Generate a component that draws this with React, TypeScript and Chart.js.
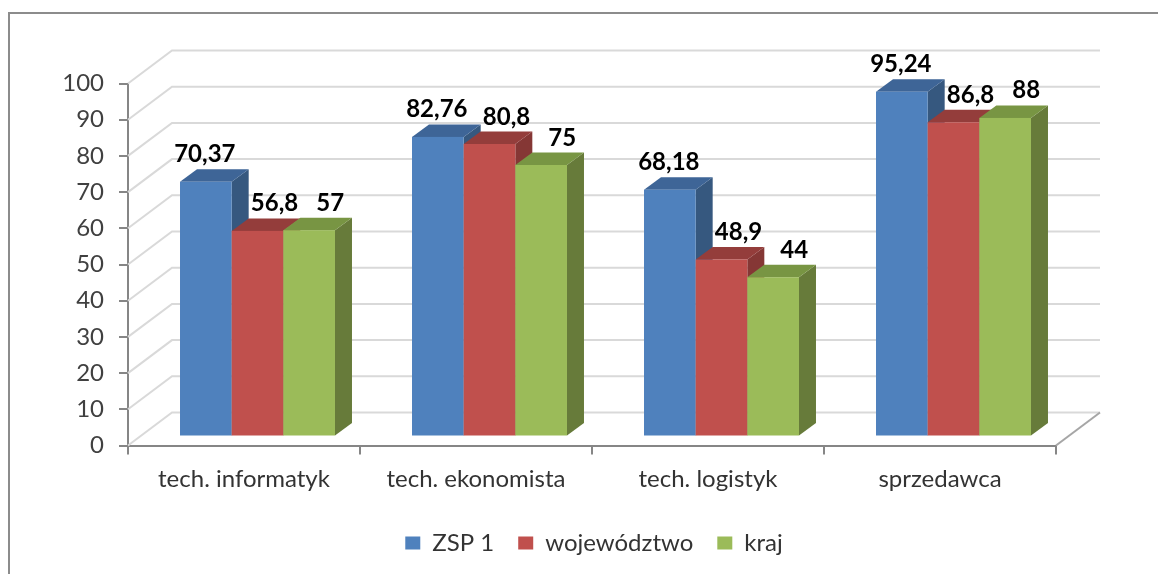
import React, { useEffect, useRef } from "react";
import { Chart, registerables } from "chart.js";

Chart.register(...registerables);

// ---- data ----
const categories = ["tech. informatyk", "tech. ekonomista", "tech. logistyk", "sprzedawca"];
const seriesNames = ["ZSP 1", "województwo", "kraj"];
const zspValues = [70.37, 82.76, 68.18, 95.24];
const wojValues = [56.8, 80.8, 48.9, 86.8];
const krajValues = [57, 75, 44, 88];
const yMin = 0;
const yMax = 100;
const yStep = 10;

// ---- styles ----
const frontColors = ["#4F81BD", "#C0504D", "#9BBB59"];
const topColors = ["#3E6597", "#943D3B", "#789543"];
const sideColors = ["#36587F", "#853735", "#677B3A"];
const labelShift = [-1, 17, 21];

const W = 1158;
const H = 574;
const WALL_DX = 44;
const WALL_DY = 33;
const BAR_SHIFT_X = 13.5;
const BAR_SHIFT_Y = 9;
const BAR_DX = 17;
const BAR_DY = 12.5;

const fmt = (v: number) => String(v).replace(".", ",");

const threeD = {
  id: "threeD",
  beforeDraw(chart: any) {
    const ctx = chart.ctx;
    ctx.save();
    ctx.fillStyle = "#ffffff";
    ctx.fillRect(0, 0, chart.width, chart.height);
    ctx.strokeStyle = "#8c8c8c";
    ctx.lineWidth = 2;
    ctx.strokeRect(9, 13, chart.width + 40, chart.height + 40);
    ctx.restore();
  },
  beforeDatasetsDraw(chart: any) {
    const { ctx, chartArea, scales } = chart;
    const y = scales.y;
    const x = scales.x;
    ctx.save();
    // back wall + left wall gridlines
    ctx.strokeStyle = "#d9d9d9";
    ctx.lineWidth = 2;
    y.ticks.forEach((t: any) => {
      const py = y.getPixelForValue(t.value);
      ctx.beginPath();
      ctx.moveTo(chartArea.left, py);
      ctx.lineTo(chartArea.left + WALL_DX, py - WALL_DY);
      ctx.lineTo(chartArea.right + WALL_DX, py - WALL_DY);
      ctx.stroke();
    });
    // floor right edge
    const p0 = y.getPixelForValue(yMin);
    ctx.strokeStyle = "#a6a6a6";
    ctx.beginPath();
    ctx.moveTo(x.right, p0);
    ctx.lineTo(x.right + WALL_DX, p0 - WALL_DY);
    ctx.stroke();

    // bars
    const metas = chart.data.datasets.map((_: any, i: number) => chart.getDatasetMeta(i));
    const labels: any[] = [];
    categories.forEach((_, ci) => {
      metas.forEach((meta: any, di: number) => {
        const el = meta.data[ci];
        if (!el) return;
        const L = el.x - el.width / 2 + BAR_SHIFT_X;
        const R = el.x + el.width / 2 + BAR_SHIFT_X;
        const T = el.y - BAR_SHIFT_Y;
        const B = el.base - BAR_SHIFT_Y;
        // side
        ctx.fillStyle = sideColors[di];
        ctx.beginPath();
        ctx.moveTo(R, T);
        ctx.lineTo(R + BAR_DX, T - BAR_DY);
        ctx.lineTo(R + BAR_DX, B - BAR_DY);
        ctx.lineTo(R, B);
        ctx.closePath();
        ctx.fill();
        // top
        ctx.fillStyle = topColors[di];
        ctx.beginPath();
        ctx.moveTo(L, T);
        ctx.lineTo(L + BAR_DX, T - BAR_DY);
        ctx.lineTo(R + BAR_DX, T - BAR_DY);
        ctx.lineTo(R, T);
        ctx.closePath();
        ctx.fill();
        // front
        ctx.fillStyle = frontColors[di];
        ctx.fillRect(L, T, R - L, B - T);
        labels.push({
          x: (L + R) / 2 + labelShift[di],
          y: T - BAR_DY - 7,
          text: fmt(chart.data.datasets[di].data[ci]),
        });
      });
    });
    ctx.fillStyle = "#000000";
    ctx.font = "bold 24px Lato";
    ctx.textAlign = "center";
    ctx.textBaseline = "alphabetic";
    labels.forEach((l) => ctx.fillText(l.text, l.x, l.y));
    ctx.restore();
    return false;
  },
};

export default function App() {
  const ref = useRef<HTMLCanvasElement>(null);
  useEffect(() => {
    if (!ref.current) return;
    Chart.defaults.font.family = "Lato";
    const chart = new Chart(ref.current, {
      type: "bar",
      data: {
        labels: categories,
        datasets: [
          { label: seriesNames[0], data: zspValues, backgroundColor: frontColors[0], borderWidth: 0, categoryPercentage: 0.668, barPercentage: 1 },
          { label: seriesNames[1], data: wojValues, backgroundColor: frontColors[1], borderWidth: 0, categoryPercentage: 0.668, barPercentage: 1 },
          { label: seriesNames[2], data: krajValues, backgroundColor: frontColors[2], borderWidth: 0, categoryPercentage: 0.668, barPercentage: 1 },
        ],
      },
      options: {
        responsive: false,
        animation: false,
        devicePixelRatio: 1,
        layout: { padding: { left: 30, right: 0, top: 83.5, bottom: 9 } },
        scales: {
          x: {
            grid: { offset: true, drawOnChartArea: false, drawTicks: true, tickLength: 9, color: "#868686", lineWidth: 2 },
            border: { display: true, color: "#868686", width: 2 },
            ticks: { color: "#333333", font: { family: "Lato", size: 24 }, padding: 10, maxRotation: 0, autoSkip: false },
            afterFit: (s: any) => { s.height = 61.5; },
          },
          y: {
            min: yMin,
            max: yMax,
            ticks: { stepSize: yStep, color: "#404040", font: { family: "Lato", size: 24 }, padding: 15 },
            grid: { drawOnChartArea: false, drawTicks: true, tickLength: 9, color: "#868686", lineWidth: 2 },
            border: { display: true, color: "#868686", width: 2 },
            afterFit: (s: any) => { s.width = 98; },
          },
          y2: {
            type: "linear",
            axis: "y",
            position: "right",
            display: true,
            ticks: { display: false },
            grid: { display: false },
            border: { display: false },
            afterFit: (s: any) => { s.width = 102; },
          },
        } as any,
        plugins: {
          legend: {
            position: "bottom",
            labels: { font: { family: "Lato", size: 24 }, color: "#333333", boxWidth: 15, boxHeight: 13, padding: 24 },
          },
          tooltip: { enabled: false },
          title: { display: false },
        },
      },
      plugins: [threeD],
    });
    return () => chart.destroy();
  }, []);
  return (
    <div style={{ position: "absolute", left: 0, top: 0, width: W, height: H, background: "#fff" }}>
      <canvas ref={ref} width={W} height={H} style={{ display: "block", width: W, height: H }} />
    </div>
  );
}
